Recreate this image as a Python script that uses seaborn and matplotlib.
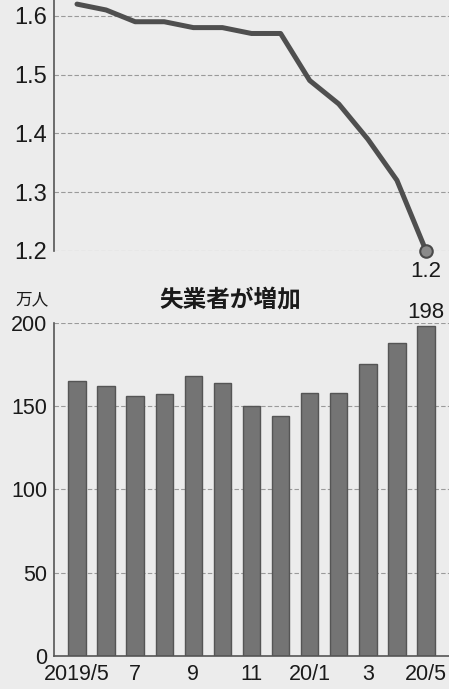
import pandas as pd
import seaborn as sns
import matplotlib.pyplot as plt

months = ["2019/5", "6", "7", "8", "9", "10", "11", "12", "20/1", "2", "3", "4", "20/5"]
ratio = [1.62, 1.61, 1.59, 1.59, 1.58, 1.58, 1.57, 1.57, 1.49, 1.45, 1.39, 1.32, 1.20]
unemployed = [165, 162, 156, 157, 168, 164, 150, 144, 158, 158, 175, 188, 198]
tick_labels = ["2019/5", "7", "9", "11", "20/1", "3", "20/5"]

df = pd.DataFrame({"month": months, "ratio": ratio, "unemployed": unemployed})
df["pos"] = range(len(df))

sns.set_style("white")
plt.rcParams["font.family"] = ["Liberation Sans Narrow", "Liberation Sans", "Noto Sans CJK JP", "DejaVu Sans"]

bg = "#ececec"
txt = "#1a1a1a"
fig = plt.figure(figsize=(4.49, 6.89), dpi=100, facecolor=bg)

# 上段: 有効求人倍率
ax1 = fig.add_axes([0.1203, 0.636, 0.8797, 0.364], facecolor=bg)
sns.lineplot(data=df, x="pos", y="ratio", ax=ax1, color="#4f4f4f", linewidth=3.6)
ax1.plot(df["pos"].iloc[-1], df["ratio"].iloc[-1], "o", ms=9, mfc="#8a8a8a",
         mec="#4a4a4a", mew=1.5, clip_on=False, zorder=5)
ax1.text(df["pos"].iloc[-1], 1.2 - 0.018, "1.2", ha="center", va="top", fontsize=16, color=txt)
ax1.set_xlim(-0.79, 12.79)
ax1.set_ylim(1.2, 1.627)
ax1.set_yticks([1.2, 1.3, 1.4, 1.5, 1.6])
ax1.set_yticklabels(["1.2", "1.3", "1.4", "1.5", "1.6"], fontsize=17, color=txt)
ax1.set_xticks([])
ax1.set_xlabel("")
ax1.set_ylabel("")
ax1.grid(axis="y", ls=(0, (4, 2)), lw=0.8, color="#9a9a9a")
for s in ["top", "right", "bottom"]:
    ax1.spines[s].set_visible(False)
ax1.spines["left"].set_color("#555")
ax1.spines["left"].set_linewidth(1.2)
ax1.tick_params(axis="y", direction="in", length=8, width=1.5, color="#555", pad=5)

# 下段: 失業者
ax2 = fig.add_axes([0.1203, 0.0479, 0.8797, 0.4837], facecolor=bg)
sns.barplot(data=df, x="pos", y="unemployed", ax=ax2, color="#747474",
            edgecolor="#555555", linewidth=1.0, width=0.6, saturation=1, native_scale=True)
ax2.text(df["pos"].iloc[-1], 200, "198", ha="center", va="bottom", fontsize=16, color=txt)
ax2.set_xlim(-0.79, 12.79)
ax2.set_ylim(0, 200)
ax2.set_yticks([0, 50, 100, 150, 200])
ax2.set_yticklabels(["0", "50", "100", "150", "200"], fontsize=15.5, color=txt)
ax2.set_xticks(df["pos"][::2])
ax2.set_xticklabels(tick_labels, fontsize=15.5, color=txt)
ax2.set_xlabel("")
ax2.set_ylabel("")
ax2.grid(axis="y", ls=(0, (4, 2)), lw=0.8, color="#9a9a9a")
ax2.set_axisbelow(True)
for s in ["top", "right"]:
    ax2.spines[s].set_visible(False)
for s in ["left", "bottom"]:
    ax2.spines[s].set_color("#555")
    ax2.spines[s].set_linewidth(1.2)
ax2.tick_params(axis="y", direction="in", length=8, width=1.5, color="#555", pad=5)
ax2.tick_params(axis="x", length=0, pad=6)

fig.text(0.512, 0.565, "失業者が増加", ha="center", va="center", fontsize=17,
         fontweight="bold", color=txt, family=["Noto Sans CJK JP", "DejaVu Sans"])
fig.text(0.034, 0.565, "万人", ha="left", va="center", fontsize=12,
         color=txt, family=["Noto Sans CJK JP", "DejaVu Sans"])

fig.savefig("out.png", dpi=100, facecolor=bg)
